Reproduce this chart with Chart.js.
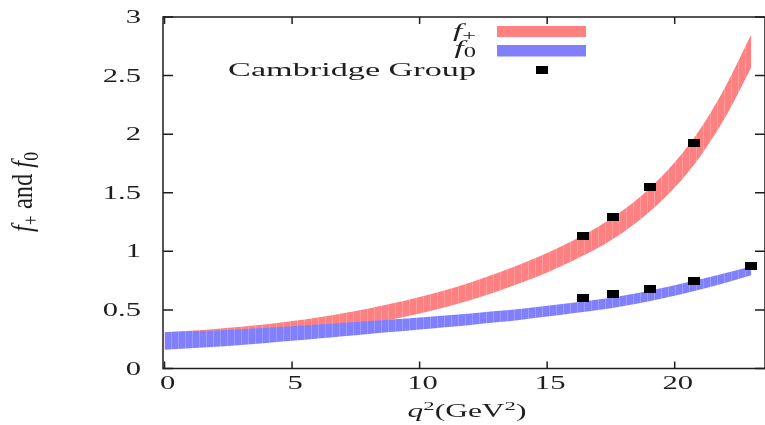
<!DOCTYPE html>
<html>
<head>
<meta charset="utf-8">
<script src="https://cdn.jsdelivr.net/npm/chart.js@4/dist/chart.umd.min.js"></script>
<style>
  html, body { margin: 0; padding: 0; background: #fff; overflow: hidden; }
  #wrap { width: 765px; height: 425px; overflow: hidden; }
</style>
</head>
<body>
<div id="wrap"><canvas id="ffChart" width="772" height="425"></canvas></div>
<script>
// q^2 grid (GeV^2) where the two form factor bands are sampled
const qsq = [0, 1, 2, 3, 4, 5, 6, 7, 8, 9, 10, 11, 12, 13, 14, 15, 16, 17, 18, 19, 20, 21, 22, 23];

// f+ band, upper and lower edge
const fPlusHigh = [0.31, 0.323, 0.338, 0.356, 0.378, 0.405, 0.436, 0.472, 0.512, 0.558, 0.61, 0.668,
                   0.735, 0.81, 0.893, 0.985, 1.09, 1.21, 1.355, 1.535, 1.76, 2.045, 2.41, 2.85];
const fPlusLow  = [0.17, 0.183, 0.203, 0.226, 0.248, 0.275, 0.306, 0.342, 0.382, 0.423, 0.47, 0.523,
                   0.585, 0.655, 0.733, 0.82, 0.92, 1.03, 1.165, 1.335, 1.545, 1.81, 2.15, 2.57];

// f0 band, upper and lower edge
const fZeroHigh = [0.31, 0.317, 0.325, 0.336, 0.348, 0.361, 0.375, 0.39, 0.405, 0.42, 0.436, 0.452,
                   0.47, 0.49, 0.511, 0.535, 0.561, 0.589, 0.624, 0.664, 0.71, 0.762, 0.815, 0.87];
const fZeroLow  = [0.16, 0.172, 0.185, 0.201, 0.218, 0.236, 0.255, 0.275, 0.295, 0.313, 0.332, 0.352,
                   0.372, 0.394, 0.417, 0.443, 0.471, 0.499, 0.534, 0.574, 0.62, 0.674, 0.732, 0.795];

// Cambridge Group points
const camQsqPlus = [16.4, 17.6, 19.05, 20.75];
const camFPlus   = [1.133, 1.296, 1.547, 1.928];
const camQsqZero = [16.4, 17.6, 19.05, 20.75, 23.0];
const camFZero   = [0.598, 0.632, 0.675, 0.749, 0.877];

const xTicks = [0, 5, 10, 15, 20];
const xTickLabels = ['0', '5', '10', '15', '20'];
const yTicks = [0, 0.5, 1, 1.5, 2, 2.5, 3];
const yTickLabels = ['0', '0.5', '1', '1.5', '2', '2.5', '3'];

const RED = '#ff8080';
const BLUE = '#8080ff';
const INK = '#1e1e1e';
const SERIF = '"Liberation Serif", "Times New Roman", serif';

function toPoints(xs, ys) {
    return xs.map((x, i) => ({ x: x, y: ys[i] }));
}

// band fill with faint vertical streaks
function stripes(base, light) {
    const c = document.createElement('canvas');
    c.width = 7; c.height = 4;
    const g = c.getContext('2d');
    g.fillStyle = base;
    g.fillRect(0, 0, 7, 4);
    g.fillStyle = light;
    g.fillRect(3, 0, 1, 4);
    return g.createPattern(c, 'repeat');
}

// small black rectangle used as marker
function marker() {
    const c = document.createElement('canvas');
    c.width = 12; c.height = 8;
    const g = c.getContext('2d');
    g.fillStyle = '#000';
    g.fillRect(0, 0, 12, 8);
    return c;
}
const markerImg = marker();

// draws a run of text pieces [{t, font, dy}] stretched horizontally by sx
function drawRich(ctx, pieces, x, y, sx, align) {
    ctx.save();
    ctx.translate(x, y);
    ctx.scale(sx, 1);
    ctx.textBaseline = 'alphabetic';
    ctx.textAlign = 'left';
    let w = 0;
    pieces.forEach(p => { ctx.font = p.font; w += ctx.measureText(p.t).width; });
    let cx = align === 'right' ? -w : (align === 'center' ? -w / 2 : 0);
    pieces.forEach(p => {
        ctx.font = p.font;
        ctx.fillText(p.t, cx, p.dy || 0);
        cx += ctx.measureText(p.t).width;
    });
    ctx.restore();
}

const framePlugin = {
    id: 'frame',
    afterDraw(chart) {
        const ctx = chart.ctx;
        const { left, right, top, bottom } = chart.chartArea;
        const xs = chart.scales.x, ys = chart.scales.y;

        ctx.save();
        ctx.strokeStyle = INK;
        ctx.lineWidth = 1.5;
        ctx.strokeRect(left, top, right - left, bottom - top);

        ctx.beginPath();
        xs.ticks.forEach(t => {
            const px = xs.getPixelForValue(t.value);
            ctx.moveTo(px, bottom); ctx.lineTo(px, bottom - 7);
            ctx.moveTo(px, top); ctx.lineTo(px, top + 7);
        });
        ys.ticks.forEach(t => {
            const py = ys.getPixelForValue(t.value);
            ctx.moveTo(left, py); ctx.lineTo(left + 10, py);
            ctx.moveTo(right, py); ctx.lineTo(right - 10, py);
        });
        ctx.stroke();

        ctx.fillStyle = INK;
        const tickFont = '18px ' + SERIF;
        xs.ticks.forEach((t, i) => {
            const px = xs.getPixelForValue(t.value);
            drawRich(ctx, [{ t: xTickLabels[i], font: tickFont }], px + 3, 389, 1.7, 'center');
        });
        ys.ticks.forEach((t, i) => {
            const py = ys.getPixelForValue(t.value);
            drawRich(ctx, [{ t: yTickLabels[i], font: tickFont }], 141, py + 6, 1.7, 'right');
        });

        // x axis title: q^2 (GeV^2)
        drawRich(ctx, [
            { t: 'q', font: 'italic 18px ' + SERIF },
            { t: '2', font: '13px ' + SERIF, dy: -7 },
            { t: '(GeV', font: '18px ' + SERIF },
            { t: '2', font: '13px ' + SERIF, dy: -7 },
            { t: ')', font: '18px ' + SERIF }
        ], 467, 417, 1.75, 'center');

        // y axis title: f+ and f0, rotated
        ctx.save();
        ctx.translate(32, 192);
        ctx.rotate(-Math.PI / 2);
        ctx.scale(1.0, 1.6);
        drawRich(ctx, [
            { t: 'f', font: 'italic 18px ' + SERIF },
            { t: '+', font: '13px ' + SERIF, dy: 4 },
            { t: ' and ', font: '18px ' + SERIF },
            { t: 'f', font: 'italic 18px ' + SERIF },
            { t: '0', font: '13px ' + SERIF, dy: 4 }
        ], 0, 0, 1.36, 'center');
        ctx.restore();

        // key
        const keyRight = 476;
        drawRich(ctx, [
            { t: 'f', font: 'italic 19px ' + SERIF },
            { t: '+', font: '14px ' + SERIF, dy: 3 }
        ], keyRight, 37, 1.75, 'right');
        drawRich(ctx, [
            { t: 'f', font: 'italic 19px ' + SERIF },
            { t: '0', font: '14px ' + SERIF, dy: 3 }
        ], keyRight, 54, 1.75, 'right');
        drawRich(ctx, [{ t: 'Cambridge Group', font: '19px ' + SERIF }], keyRight, 76, 1.8, 'right');

        ctx.fillStyle = RED;
        ctx.fillRect(497, 26, 89, 11);
        ctx.fillStyle = BLUE;
        ctx.fillRect(497, 45, 89, 11.5);
        ctx.drawImage(markerImg, 536, 66);
        ctx.restore();
    }
};

const ctx = document.getElementById('ffChart').getContext('2d');

new Chart(ctx, {
    type: 'line',
    data: {
        datasets: [
            {
                label: 'f+ high', data: toPoints(qsq, fPlusHigh), order: 3,
                borderWidth: 0, pointRadius: 0, fill: '+1',
                backgroundColor: stripes(RED, '#ff9c9c'), cubicInterpolationMode: 'monotone'
            },
            {
                label: 'f+ low', data: toPoints(qsq, fPlusLow), order: 3,
                borderWidth: 0, pointRadius: 0, fill: false, cubicInterpolationMode: 'monotone'
            },
            {
                label: 'f0 high', data: toPoints(qsq, fZeroHigh), order: 2,
                borderWidth: 0, pointRadius: 0, fill: '+1',
                backgroundColor: stripes(BLUE, '#9c9cff'), cubicInterpolationMode: 'monotone'
            },
            {
                label: 'f0 low', data: toPoints(qsq, fZeroLow), order: 2,
                borderWidth: 0, pointRadius: 0, fill: false, cubicInterpolationMode: 'monotone'
            },
            {
                label: 'Cambridge Group', data: toPoints(camQsqPlus, camFPlus), order: 0,
                showLine: false, pointStyle: markerImg, pointRadius: 6
            },
            {
                label: 'Cambridge Group f0', data: toPoints(camQsqZero, camFZero), order: 0,
                showLine: false, pointStyle: markerImg, pointRadius: 6
            }
        ]
    },
    options: {
        responsive: false,
        animation: false,
        devicePixelRatio: 1,
        layout: { padding: { left: 163, right: 3.5, top: 17, bottom: 56.5 } },
        plugins: { legend: { display: false }, tooltip: { enabled: false } },
        scales: {
            x: {
                type: 'linear', display: false, min: -0.06, max: 23.54,
                afterBuildTicks: s => { s.ticks = xTicks.map(v => ({ value: v })); }
            },
            y: {
                type: 'linear', display: false, min: 0, max: 3,
                afterBuildTicks: s => { s.ticks = yTicks.map(v => ({ value: v })); }
            }
        }
    },
    plugins: [framePlugin]
});
</script>
</body>
</html>
